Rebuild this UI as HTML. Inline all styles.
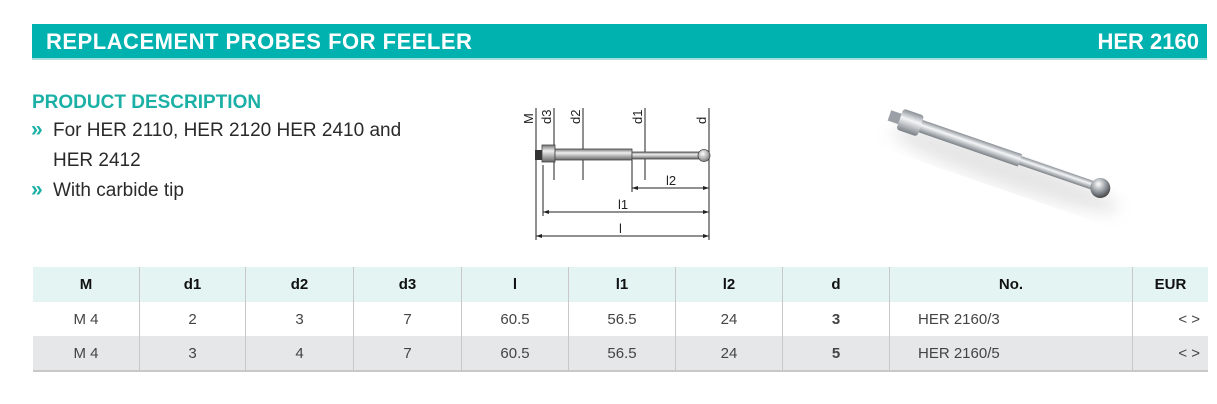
<!DOCTYPE html>
<html><head><meta charset="utf-8"><style>
body{margin:0;width:1217px;height:404px;background:#fff;font-family:"Liberation Sans",sans-serif;position:relative;overflow:hidden}
.bar{position:absolute;left:32px;top:24px;width:1175px;height:34px;background:#00b2af;border-bottom:2px solid #a6dedc}
.bar .t{position:absolute;left:14px;top:5px;color:#fff;font-size:22px;font-weight:bold;letter-spacing:0.5px}
.bar .r{position:absolute;right:8px;top:5px;color:#fff;font-size:22px;font-weight:bold}
.pd{position:absolute;left:32px;top:92px;color:#1bb0a6;font-size:19px;font-weight:bold}
.li{position:absolute;left:53px;color:#2a2a2a;font-size:19px}
.ch{position:absolute;left:31px;color:#1bb0a6;font-size:21px;font-weight:bold}
table{position:absolute;left:33px;top:267px;width:1175px;border-collapse:collapse;font-size:15px;color:#444}
td{height:34px;text-align:center;border-left:1px solid #c8c8c8;padding:0}
td:first-child{border-left:none}
tr.h td{background:#e4f4f3;font-weight:bold;color:#111;height:35px}
tr.g td{background:#e6e7e9}
tr.b td{border-bottom:2px solid #c8c8c8}
</style></head><body>
<div class="bar"><span class="t">REPLACEMENT PROBES FOR FEELER</span><span class="r">HER 2160</span></div>
<div class="pd">PRODUCT DESCRIPTION</div>
<div class="ch" style="top:118px">»</div><div class="li" style="top:120px">For HER 2110, HER 2120 HER 2410 and</div>
<div class="li" style="top:150px">HER 2412</div>
<div class="ch" style="top:178px">»</div><div class="li" style="top:180px">With carbide tip</div>

<svg style="position:absolute;left:0;top:0" width="1217" height="404">
<defs>
<linearGradient id="sh" x1="0" y1="0" x2="0" y2="1"><stop offset="0" stop-color="#777"/><stop offset=".35" stop-color="#eee"/><stop offset="1" stop-color="#666"/></linearGradient>
<radialGradient id="bl" cx=".4" cy=".35" r=".7"><stop offset="0" stop-color="#fff"/><stop offset="1" stop-color="#777"/></radialGradient>
<linearGradient id="ps" x1="0" y1="0" x2="0" y2="1"><stop offset="0" stop-color="#8a9096"/><stop offset=".4" stop-color="#f4f6f8"/><stop offset="1" stop-color="#7a8086"/></linearGradient>
<radialGradient id="pb" cx=".35" cy=".35" r=".7"><stop offset="0" stop-color="#fff"/><stop offset=".6" stop-color="#8a9096"/><stop offset="1" stop-color="#444"/></radialGradient>
<filter id="bf"><feGaussianBlur stdDeviation="8"/></filter>
</defs>
<g stroke="#222" stroke-width="1" fill="none">
<line x1="536" y1="108" x2="536" y2="240"/><line x1="554" y1="108" x2="554" y2="180"/><line x1="583" y1="108" x2="583" y2="180"/>
<line x1="645" y1="108" x2="645" y2="180"/><line x1="709" y1="108" x2="709" y2="240"/>
<line x1="543" y1="165" x2="543" y2="216"/><line x1="632" y1="160" x2="632" y2="192"/>
<line x1="632" y1="188" x2="709" y2="188"/><line x1="543" y1="212" x2="709" y2="212"/><line x1="536" y1="236" x2="709" y2="236"/>
</g>
<g fill="#222">
<polygon points="632,188 638,186 638,190"/><polygon points="709,188 703,186 703,190"/>
<polygon points="543,212 549,210 549,214"/><polygon points="709,212 703,210 703,214"/>
<polygon points="536,236 542,234 542,238"/><polygon points="709,236 703,234 703,238"/>
</g>
<rect x="535" y="150" width="8" height="10" fill="#333"/>
<rect x="542" y="145" width="13" height="17" fill="url(#sh)" stroke="#444" stroke-width=".8"/>
<rect x="555" y="149" width="77" height="11" fill="url(#sh)" stroke="#444" stroke-width=".8"/>
<rect x="632" y="152" width="72" height="7" fill="url(#sh)" stroke="#444" stroke-width=".8"/>
<circle cx="704" cy="155.5" r="6" fill="url(#bl)" stroke="#444" stroke-width=".8"/>
<g font-size="13" fill="#222">
<text transform="translate(533,124) rotate(-90)">M</text>
<text transform="translate(551,124) rotate(-90)">d3</text>
<text transform="translate(580,124) rotate(-90)">d2</text>
<text transform="translate(642,124) rotate(-90)">d1</text>
<text transform="translate(706,124) rotate(-90)">d</text>
<text x="666" y="185">l2</text><text x="618" y="209">l1</text><text x="619" y="233">l</text>
</g>
<ellipse cx="1005" cy="170" rx="120" ry="16" fill="#ccc" opacity=".5" filter="url(#bf)" transform="rotate(19 1005 170)"/>
<g transform="translate(897,118) rotate(19)">
<rect x="-8" y="-5.5" width="12" height="11" fill="#9aa0a6"/>
<rect x="3" y="-11" width="22" height="22" rx="3" fill="url(#ps)"/>
<rect x="25" y="-6.5" width="105" height="13" fill="url(#ps)"/>
<rect x="130" y="-4.5" width="80" height="9" fill="url(#ps)"/>
<circle cx="215" cy="0" r="10" fill="url(#pb)"/>
</g>
</svg>

<table>
<tr class="h"><td style="width:106px">M</td><td style="width:105px">d1</td><td style="width:107px">d2</td><td style="width:107px">d3</td><td style="width:106px">l</td><td style="width:106px">l1</td><td style="width:106px">l2</td><td style="width:106px">d</td><td style="width:242px">No.</td><td>EUR</td></tr>
<tr><td>M 4</td><td>2</td><td>3</td><td>7</td><td>60.5</td><td>56.5</td><td>24</td><td><b>3</b></td><td style="text-align:left;padding-left:28px">HER 2160/3</td><td style="text-align:right;padding-right:8px">&lt; &gt;</td></tr>
<tr class="g b"><td>M 4</td><td>3</td><td>4</td><td>7</td><td>60.5</td><td>56.5</td><td>24</td><td><b>5</b></td><td style="text-align:left;padding-left:28px">HER 2160/5</td><td style="text-align:right;padding-right:8px">&lt; &gt;</td></tr>
</table>
</body></html>
